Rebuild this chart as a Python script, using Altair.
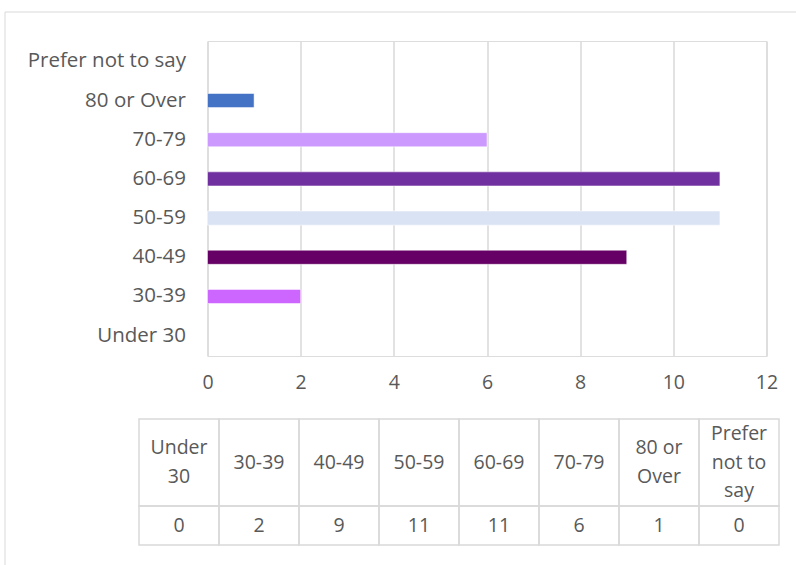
import altair as alt
import pandas as pd

categories = ["Under 30", "30-39", "40-49", "50-59", "60-69", "70-79", "80 or Over", "Prefer not to say"]
values = [0, 2, 9, 11, 11, 6, 1, 0]
bar_colors = ["#A5A5A5", "#CC66FF", "#660066", "#DAE3F3", "#7030A0", "#CC99FF", "#4472C4", "#FFC000"]
table_headers = ["Under\n30", "30-39", "40-49", "50-59", "60-69", "70-79", "80 or\nOver", "Prefer\nnot to\nsay"]
x_ticks = [0, 2, 4, 6, 8, 10, 12]

FONT = "Open Sans"
TXT = "#595959"
GRID = "#D9D9D9"
FS = 19.5
FS_Y = 20.5
LH = 28.5

df = pd.DataFrame({"category": categories, "value": values, "header": table_headers,
                   "label": [str(v) for v in values]})

base = alt.Chart(df)

frame = alt.Chart(pd.DataFrame({"a": [0]})).mark_rect(fill=None, stroke=GRID, strokeWidth=1).encode(
    x=alt.value(-202.5), x2=alt.value(900), y=alt.value(-29), y2=alt.value(700)
)

bars = base.transform_filter("datum.value > 0").mark_bar(
    stroke="white", strokeOpacity=0.5, strokeWidth=1
).encode(
    y=alt.Y("category:N", sort=None,
            scale=alt.Scale(domain=list(reversed(categories)), paddingInner=0.64, paddingOuter=0.34),
            axis=alt.Axis(title=None, ticks=False, domain=False, grid=False, labelFontSize=FS_Y,
                          labelFont=FONT, labelColor=TXT, labelPadding=22, labelLimit=300)),
    x=alt.X("value:Q", scale=alt.Scale(domain=[0, 12], nice=False),
            axis=alt.Axis(title=None, values=x_ticks, ticks=False, tickSize=0, domain=False,
                          grid=True, gridColor=GRID, gridWidth=1.5, labelFontSize=FS,
                          labelFont=FONT, labelColor=TXT, labelPadding=17, labelFlush=False)),
    color=alt.Color("category:N", scale=alt.Scale(domain=categories, range=bar_colors), legend=None),
)

tx = alt.X("category:N", sort=categories,
           scale=alt.Scale(domain=categories, range=[-68.5, 571.5], paddingInner=0, paddingOuter=0),
           axis=None)

head_cells = base.mark_rect(fill=None, stroke=GRID, strokeWidth=1.5).encode(
    x=tx, y=alt.value(378), y2=alt.value(465))
val_cells = base.mark_rect(fill=None, stroke=GRID, strokeWidth=1.5).encode(
    x=tx, y=alt.value(465), y2=alt.value(504))

head_center = 421.5
head_base = base.transform_calculate(nlines="split(datum.header, '\\n').length")
head_layers = []
for n in (1, 2, 3):
    head_layers.append(
        head_base.transform_filter(f"datum.nlines == {n}").mark_text(
            font=FONT, fontSize=FS, color=TXT, lineBreak="\n", lineHeight=LH,
            baseline="middle", align="center"
        ).encode(x=tx, y=alt.value(head_center - (n - 1) * LH / 2), text="header:N")
    )

val_text = base.mark_text(font=FONT, fontSize=FS, color=TXT, baseline="middle", align="center").encode(
    x=tx, y=alt.value(484.5), text="label:N")

chart = alt.layer(frame, bars, head_cells, val_cells, *head_layers, val_text).resolve_scale(
    x="independent", y="independent", color="independent"
).properties(
    width=559, height=315,
    autosize=alt.AutoSizeParams(type="none"),
    padding={"left": 207.5, "top": 41, "right": 29.5, "bottom": 209},
).configure_view(stroke=None).configure(background="white")

chart.save("out.html", embed_options={"renderer": "svg", "actions": False})
